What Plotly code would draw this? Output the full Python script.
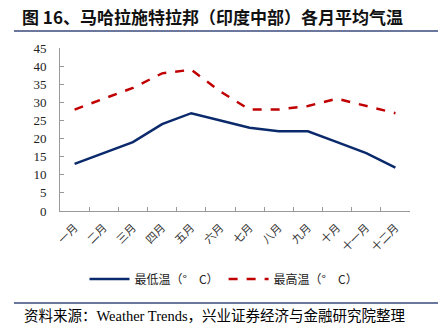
import plotly.graph_objects as go

months = ["一月", "二月", "三月", "四月", "五月", "六月", "七月", "八月", "九月", "十月", "十一月", "十二月"]
low_temp = [13, 16, 19, 24, 27, 25, 23, 22, 22, 19, 16, 12]
high_temp = [28, 31, 34, 38, 39, 33, 28, 28, 29, 31, 29, 27]
y_ticks = [0, 5, 10, 15, 20, 25, 30, 35, 40, 45]

fig = go.Figure()
fig.add_trace(go.Scatter(x=months, y=low_temp, mode="lines", name="最低温（°\u3000C）",
                         line=dict(color="#0b2a6b", width=2.5)))
fig.add_trace(go.Scatter(x=months, y=high_temp, mode="lines", name="最高温（°\u3000C）",
                         line=dict(color="#c00000", width=2.5, dash="dash")))

W, H = 438, 331
L, R, T, B = 60, 28, 48, 120
pw, ph = W - L - R, H - T - B

def px(x):
    return (x - L) / pw

def py(y):
    return (H - B - y) / ph

fig.update_layout(
    width=W, height=H,
    margin=dict(l=L, r=R, t=T, b=B),
    plot_bgcolor="white", paper_bgcolor="white",
    font=dict(family="Liberation Serif, Noto Sans CJK SC", size=12, color="#000000"),
    showlegend=True,
    legend=dict(orientation="h", x=px(224), xanchor="center", y=py(279), yanchor="middle",
                font=dict(family="Noto Sans CJK SC", size=12, color="#222"),
                itemwidth=40, tracegroupgap=0, bgcolor="rgba(0,0,0,0)"),
    xaxis=dict(type="category", showgrid=False, showline=True, linecolor="#999999",
               linewidth=1, ticks="inside", ticklen=4, tickcolor="#999999",
               tickson="boundaries", tickangle=-45, ticklabelstandoff=5,
               tickfont=dict(family="Noto Sans CJK SC", size=11, color="#333"),
               range=[-0.5, 11.5]),
    yaxis=dict(range=[0, 45], tickvals=y_ticks, showgrid=False, showline=True,
               linecolor="#999999", linewidth=1, ticks="inside", ticklen=4,
               tickcolor="#999999", ticklabelstandoff=10,
               tickfont=dict(family="Liberation Serif", size=13, color="#222"),
               zeroline=False),
)

fig.add_annotation(text="<b>图 16、马哈拉施特拉邦（印度中部）各月平均气温</b>", xref="paper", yref="paper",
                   x=px(20), y=py(17), xanchor="left", yanchor="middle", showarrow=False,
                   font=dict(family="Noto Sans CJK SC", size=17, color="#111"))
fig.add_annotation(text="资料来源：Weather Trends，兴业证券经济与金融研究院整理", xref="paper", yref="paper",
                   x=px(22), y=py(316), xanchor="left", yanchor="middle", showarrow=False,
                   font=dict(family="Liberation Serif, Noto Sans CJK SC", size=14.5, color="#000"))

fig.add_shape(type="line", xref="paper", yref="paper", x0=px(14), x1=px(438), y0=py(31), y1=py(31),
              line=dict(color="#3b4a7c", width=1.5))
fig.add_shape(type="line", xref="paper", yref="paper", x0=px(14), x1=px(438), y0=py(303), y1=py(303),
              line=dict(color="#3b4a7c", width=1.5))

fig.write_html("out.html")
